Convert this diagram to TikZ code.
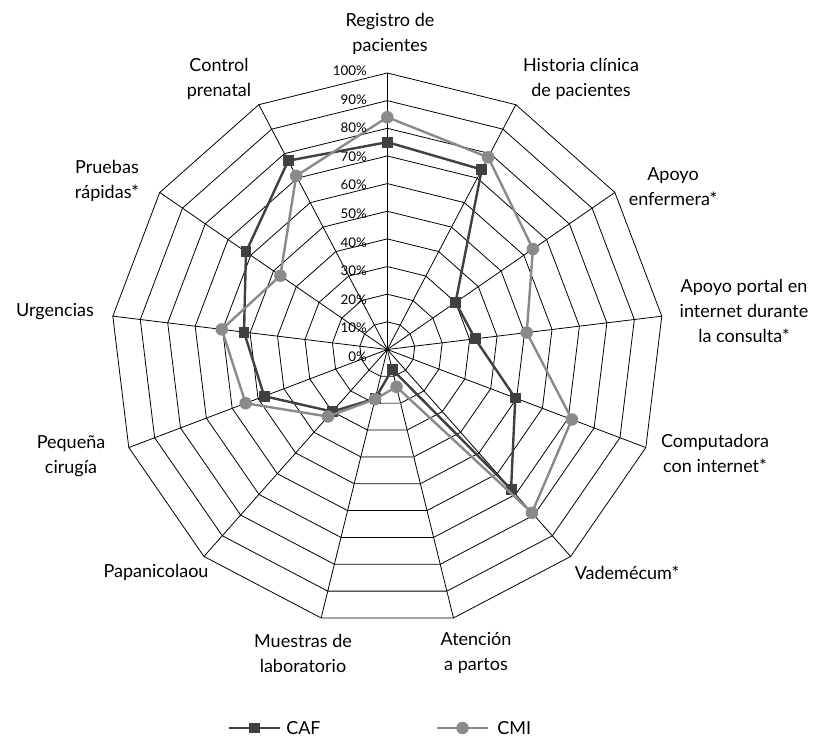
\documentclass[tikz,border=0pt]{standalone}
\usepackage{fontspec}
\setmainfont{Lato}
\usetikzlibrary{calc}
\definecolor{cafcol}{HTML}{404040}
\definecolor{cmicol}{HTML}{8A8A8A}

\begin{document}
\begin{tikzpicture}[
    x = 0.75pt, y = -0.75pt,
    line join=round,
    grid/.style = {black, line width=0.6pt},
    cafline/.style = {cafcol, line width=1.8pt},
    cmiline/.style = {cmicol, line width=1.8pt},
    cafmark/.style = {rectangle, fill=cafcol, minimum size=8.2pt, inner sep=0pt},
    cmimark/.style = {circle, fill=cmicol, minimum size=9.4pt, inner sep=0pt},
    axlabel/.style = {font=\fontsize{13.5}{18.7}\selectfont, align=center, inner sep=0pt},
    ticklabel/.style = {font=\fontsize{10}{12}\selectfont, anchor=east, inner sep=0pt}
]
\useasboundingbox (0,0) rectangle (816,737);

\begin{scope}[shift={(387.3,349.5)}]
\coordinate (c) at (0,0);

% rings and spokes
\foreach \r in {1,...,10}
  \draw[grid] (-90:\r*27.65) \foreach \k in {1,...,12} { -- (-90+\k*360/13:\r*27.65) } -- cycle;
\foreach \k in {0,...,12}
  \draw[grid] (c) -- (-90+\k*360/13:276.5);
\draw[grid, cmicol] (-90+6*360/13:55.3) -- (-90+7*360/13:55.3);
\draw[grid, cmicol] (-90+6*360/13:110.6) -- (-90+7*360/13:110.6);
\fill (c) circle (1.6);

% data points
\foreach \v [count=\k from 0] in {75,73.5,30,32,49.5,67.5,7.4,18.3,30,47.6,52.2,62.1,77.1}
  \coordinate (caf\k) at (-90+\k*360/13:\v*2.765);
\foreach \v [count=\k from 0] in {84,78.5,64,50.8,71.4,78.9,13.9,18.5,32.4,54.8,60.3,47,70.9}
  \coordinate (cmi\k) at (-90+\k*360/13:\v*2.765);

\draw[cafline] (caf0) \foreach \k in {1,...,12} { -- (caf\k) } -- cycle;
\foreach \k in {0,...,12}
  \node[cafmark] (cafm\k) at (caf\k) {};

\draw[cmiline] (cmi0) \foreach \k in {1,...,12} { -- (cmi\k) } -- cycle;
\foreach \k in {0,...,12}
  \node[cmimark] (cmim\k) at (cmi\k) {};
\end{scope}

% percent scale
\foreach \p [count=\i from 0] in {0,10,...,100}
  \node[ticklabel] (tick\i) at (367, 356.7-\i*28.6) {\p\%};

% axis labels
\node[axlabel] (registro) at (390, 34) {Registro de\\pacientes};
\node[axlabel] (historia) at (581, 79) {Historia clínica\\de pacientes};
\node[axlabel] (enfermera) at (673, 187) {Apoyo\\enfermera*};
\node[axlabel] (portal) at (744, 311) {Apoyo portal en\\internet durante\\la consulta*};
\node[axlabel] (computadora) at (715, 453) {Computadora\\con internet*};
\node[axlabel] (vademecum) at (627, 573) {Vademécum*};
\node[axlabel] (partos) at (476, 653) {Atención\\a partos};
\node[axlabel] (muestras) at (303, 653) {Muestras de\\laboratorio};
\node[axlabel] (papanicolaou) at (156, 572) {Papanicolaou};
\node[axlabel] (cirugia) at (71, 456) {Pequeña\\cirugía};
\node[axlabel] (urgencias) at (55, 312) {Urgencias};
\node[axlabel] (pruebas) at (107, 181) {Pruebas\\rápidas*};
\node[axlabel] (control) at (219, 79) {Control\\prenatal};

% legend
\coordinate (cafa) at (229, 728);
\coordinate (cafb) at (280, 728);
\draw[cafline] (cafa) -- (cafb);
\node[cafmark] (cafkey) at ($(cafa)!0.5!(cafb)$) {};
\node[axlabel, anchor=west] (caftext) at (286, 728) {CAF};

\coordinate (cmia) at (437, 728);
\coordinate (cmib) at (488, 728);
\draw[cmiline] (cmia) -- (cmib);
\node[cmimark] (cmikey) at ($(cmia)!0.5!(cmib)$) {};
\node[axlabel, anchor=west] (cmitext) at (497, 728) {CMI};

\end{tikzpicture}
\end{document}
